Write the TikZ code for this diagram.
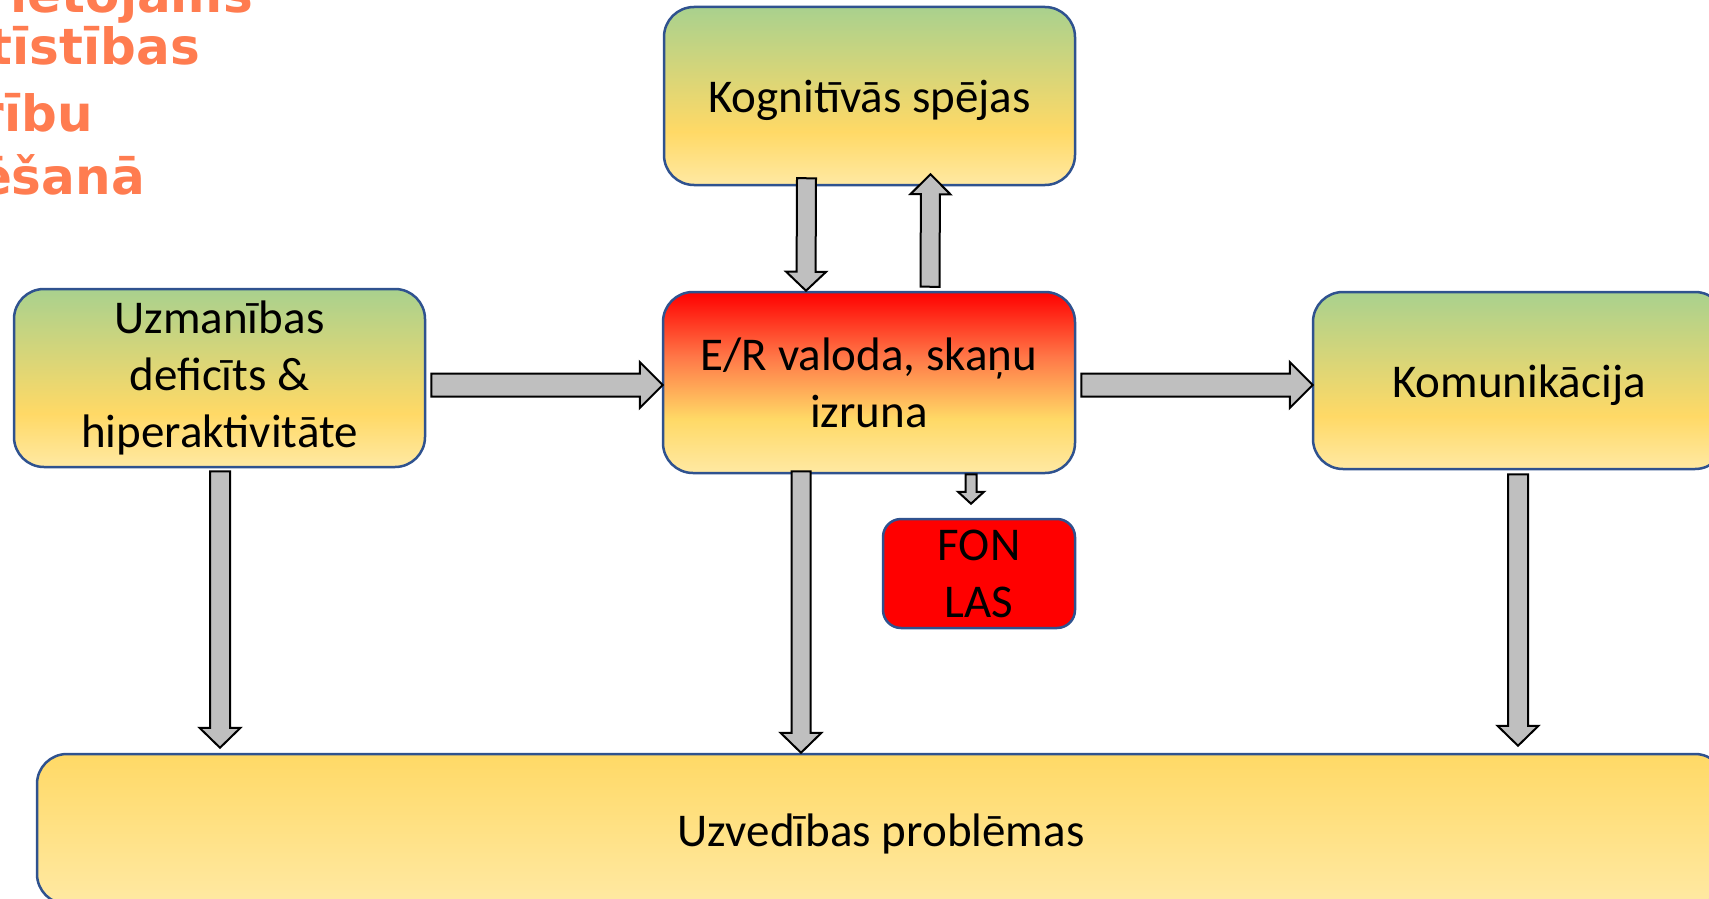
\documentclass[tikz,border=0pt]{standalone}
\usepackage{fontspec}
\setmainfont{Carlito}
\newfontfamily\titlefont{DejaVu Sans}
\usetikzlibrary{calc}

\definecolor{boxline}{RGB}{47,82,143}
\definecolor{arrgray}{RGB}{191,191,191}
\definecolor{grn}{RGB}{169,209,142}
\definecolor{yel}{RGB}{255,217,102}
\definecolor{paleyel}{RGB}{255,233,163}
\definecolor{orng}{RGB}{255,120,72}
\definecolor{titleorange}{RGB}{255,124,80}

\pgfdeclareverticalshading{greenyel}{100bp}{color(0bp)=(paleyel); color(25bp)=(paleyel); color(40bp)=(yel); color(75bp)=(grn); color(100bp)=(grn)}
\pgfdeclareverticalshading{redyel}{100bp}{color(0bp)=(paleyel); color(25bp)=(paleyel); color(40bp)=(yel); color(57bp)=(orng); color(75bp)=(red); color(100bp)=(red)}
\pgfdeclareverticalshading{plainyel}{100bp}{color(0bp)=(paleyel); color(25bp)=(paleyel); color(75bp)=(yel); color(100bp)=(yel)}

\tikzset{
  box/.style={draw=boxline, line width=2.5pt, rounded corners=30pt, align=center,
    font=\fontsize{47}{57}\selectfont, inner sep=0pt},
  oneline/.style={text height=34pt, text depth=0pt},
  blockarrow/.style={fill=arrgray, draw=black, line width=2pt, line join=miter},
  title/.style={text=titleorange, inner sep=0pt, anchor=base east,
    font=\titlefont\bfseries\fontsize{50}{60}\selectfont}
}

% fat arrow: from, to, half shaft, half head, head length
\newcommand{\blockarrow}[5]{%
  \filldraw[blockarrow] let \p1=(#1), \p2=(#2), \n1={veclen(\x2-\x1,\y2-\y1)},
      \n2={(\x2-\x1)/\n1}, \n3={(\y2-\y1)/\n1} in
    ({\x1-#3*\n3},{\y1+#3*\n2}) -- ({\x2-#5*\n2-#3*\n3},{\y2-#5*\n3+#3*\n2})
    -- ({\x2-#5*\n2-#4*\n3},{\y2-#5*\n3+#4*\n2}) -- (\p2)
    -- ({\x2-#5*\n2+#4*\n3},{\y2-#5*\n3-#4*\n2}) -- ({\x2-#5*\n2+#3*\n3},{\y2-#5*\n3-#3*\n2})
    -- ({\x1+#3*\n3},{\y1-#3*\n2}) -- cycle;
}

\begin{document}
\begin{tikzpicture}[x=1pt,y=-1pt]
  \useasboundingbox (0,0) rectangle (1709,899);
  \clip (0,0) rectangle (1709,899);

  % title, cut at the left
  \node[title] (t1) at (253,13) {ietojams};
  \node[title] (t2) at (200,65) {tīstības};
  \node[title] (t3) at (93,131) {rību};
  \node[title] (t4) at (145,194) {ēšanā};

  \node[box, oneline, shading=greenyel, minimum width=411, minimum height=178] (kog) at (869.5,96) {Kognitīvās spējas};
  \node[box, shading=redyel, minimum width=412, minimum height=181] (erv) at (869,382.5) {E/R valoda, skaņu\\izruna};
  \node[box, shading=greenyel, minimum width=411, minimum height=178] (uzm) at (219.5,378) {Uzmanības\\deficīts \&\\hiperaktivitāte};
  \node[box, oneline, shading=greenyel, minimum width=412, minimum height=177] (kom) at (1519,380.5) {Komunikācija};
  \node[box, fill=red, rounded corners=18pt, minimum width=192, minimum height=109] (fon) at (979,573.5) {FON\\LAS};
  \node[box, oneline, shading=plainyel, minimum width=1688, minimum height=150] (uzv) at (881,829) {Uzvedības problēmas};

  \blockarrow{$(kog.south)+(-63,-8)$}{$(erv.north)+(-63,0)$}{9.5}{20}{19}
  \blockarrow{$(erv.north)+(61,-4)$}{$(kog.south)+(61,-12)$}{9.5}{20}{20}
  \blockarrow{$(uzm.east)+(5,7)$}{$(erv.west)+(1,2.5)$}{11.5}{23}{23}
  \blockarrow{$(erv.east)+(5,2.5)$}{$(kom.west)+(1,4.5)$}{11.5}{23}{23}
  \blockarrow{$(uzm.south)+(0.5,3)$}{$(uzm.south |- uzv.north)+(0.5,-5)$}{10}{20.5}{20}
  \blockarrow{$(erv.south)+(-68,-3)$}{$(erv.south |- uzv.north)+(-68,0)$}{9.5}{20.5}{20}
  \blockarrow{$(kom.south)+(-1,4)$}{$(kom.south |- uzv.north)+(-1,-7)$}{10}{20.5}{20}
  \blockarrow{$(erv.south)+(102,0)$}{$(fon.north)+(-8,-14)$}{5.5}{13}{12}
\end{tikzpicture}
\end{document}
